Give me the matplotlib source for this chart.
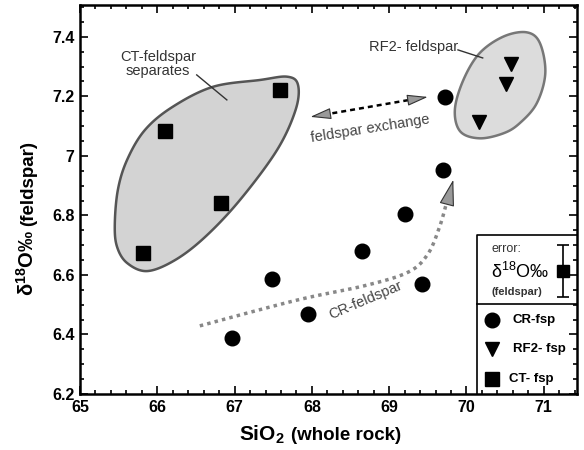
import numpy as np
import matplotlib.pyplot as plt
from matplotlib.ticker import MultipleLocator

plt.rcParams['font.family'] = ['Liberation Sans', 'DejaVu Sans']
plt.rcParams['mathtext.fontset'] = 'custom'
plt.rcParams['mathtext.rm'] = 'Liberation Sans'
plt.rcParams['mathtext.bf'] = 'Liberation Sans:bold'

# data
cr_sio2 = [66.97, 67.49, 67.95, 68.65, 69.21, 69.43, 69.70, 69.72]
cr_d18o = [6.387, 6.585, 6.468, 6.680, 6.806, 6.570, 6.953, 7.198]
rf2_sio2 = [70.58, 70.51, 70.16]
rf2_d18o = [7.31, 7.24, 7.115]
ct_sio2 = [67.59, 66.10, 66.82, 65.82]
ct_d18o = [7.22, 7.085, 6.843, 6.675]

# outlines of the shaded fields
ct_field_x = [65.45, 65.49, 65.61, 65.84, 66.20, 66.72, 67.33, 67.68, 67.82,
              67.79, 67.55, 67.07, 66.62, 66.23, 65.87, 65.61, 65.48]
ct_field_y = [6.768, 6.886, 6.987, 7.087, 7.165, 7.232, 7.255, 7.266, 7.239,
              7.155, 7.020, 6.852, 6.728, 6.650, 6.613, 6.640, 6.694]
rf2_field_x = [70.78, 70.95, 71.02, 70.91, 70.69, 70.48, 70.17, 69.92, 69.85,
               69.96, 70.17, 70.48]
rf2_field_y = [7.415, 7.379, 7.278, 7.177, 7.110, 7.076, 7.059, 7.082, 7.155,
               7.255, 7.345, 7.401]

# CR-feldspar trend path
trend_x = [66.55, 67.80, 68.70, 69.25, 69.50, 69.65, 69.74]
trend_y = [6.429, 6.515, 6.565, 6.610, 6.670, 6.760, 6.840]


def catmull(p, closed, n=20):
    m = len(p)
    if closed:
        idx = [(i - 1, i, (i + 1) % m, (i + 2) % m) for i in range(m)]
    else:
        p = np.vstack([p[0], p, p[-1]])
        idx = [(i - 1, i, i + 1, i + 2) for i in range(1, len(p) - 2)]
    out = []
    for a, b, c, d in idx:
        p0, p1, p2, p3 = p[a], p[b], p[c], p[d]
        for t in np.linspace(0, 1, n, endpoint=False):
            t2, t3 = t * t, t * t * t
            out.append(0.5 * (2 * p1 + (-p0 + p2) * t
                              + (2 * p0 - 5 * p1 + 4 * p2 - p3) * t2
                              + (-p0 + 3 * p1 - 3 * p2 + p3) * t3))
    out.append(out[0] if closed else p[-2])
    out = np.array(out)
    return out[:, 0], out[:, 1]


def head(ax, tip, tail, size=10, hl=1.3, hw=0.35):
    ax.annotate('', xy=tip, xytext=tail,
                arrowprops=dict(arrowstyle=f'-|>,head_length={hl},head_width={hw}',
                                mutation_scale=size, fc='#999999', ec='#333333',
                                lw=0.8, shrinkA=0, shrinkB=0), zorder=3)


fig = plt.figure(figsize=(5.84, 4.5), dpi=100)
ax = fig.add_axes([0.137, 0.1244, 0.851, 0.8646])

fx, fy = catmull(np.column_stack([ct_field_x, ct_field_y]), True)
ax.fill(fx, fy, facecolor='#d3d3d3', edgecolor='#555555', lw=1.8, zorder=1)
fx, fy = catmull(np.column_stack([rf2_field_x, rf2_field_y]), True)
ax.fill(fx, fy, facecolor='#dcdcdc', edgecolor='#777777', lw=1.8, zorder=1)

# CR-feldspar trend (dotted) with arrowhead
tx, ty = catmull(np.column_stack([trend_x, trend_y]), False)
ax.plot(tx, ty, color='#888888', lw=2.5, ls=(0, (1, 1.2)), zorder=2)
head(ax, (69.83, 6.92), (69.76, 6.85), size=12, hl=1.4, hw=0.4)
ax.text(68.70, 6.515, 'CR-feldspar', rotation=23, fontsize=10.5,
        color='#444444', ha='center', va='center')

# feldspar exchange arrow
ax.plot([68.15, 69.33], [7.138, 7.191], color='black', lw=1.8,
        ls=(0, (2, 1.6)), zorder=2)
head(ax, (67.98, 7.131), (68.17, 7.139))
head(ax, (69.50, 7.198), (69.31, 7.190))
ax.text(68.75, 7.09, 'feldspar exchange', rotation=9, fontsize=10.5,
        color='#444444', ha='center', va='center')

# field labels
ax.text(66.01, 7.31, 'CT-feldspar\nseparates', fontsize=10.5, color='#333333',
        ha='center', va='center', linespacing=1.0)
ax.plot([66.51, 66.90], [7.272, 7.188], color='#333333', lw=1)
ax.text(69.31, 7.366, 'RF2- feldspar', fontsize=10.5, color='#333333',
        ha='center', va='center')
ax.plot([69.89, 70.21], [7.356, 7.329], color='#333333', lw=1)

# data points
ax.plot(cr_sio2, cr_d18o, 'o', color='black', ms=10.5, zorder=4)
ax.plot(rf2_sio2, rf2_d18o, 'v', color='black', ms=10.5, zorder=4)
ax.plot(ct_sio2, ct_d18o, 's', color='black', ms=9.5, zorder=4)

ax.set_xlim(65, 71.43)
ax.set_ylim(6.2, 7.507)
ax.xaxis.set_major_locator(MultipleLocator(1))
ax.xaxis.set_minor_locator(MultipleLocator(0.2))
ax.yaxis.set_minor_locator(MultipleLocator(0.05))
ax.set_yticks([6.2, 6.4, 6.6, 6.8, 7.0, 7.2, 7.4])
ax.set_yticklabels(['6.2', '6.4', '6.6', '6.8', '7', '7.2', '7.4'])
ax.tick_params(which='both', direction='in', top=True, right=True,
               labelsize=11.5, width=1.2)
ax.tick_params(which='major', length=6, pad=4)
ax.tick_params(which='minor', length=3)
for lbl in ax.get_xticklabels() + ax.get_yticklabels():
    lbl.set_fontweight('bold')
for s in ax.spines.values():
    s.set_linewidth(1.8)

# axis labels
fig.text(0.449, 0.034, r'SiO$_\mathbf{2}$', fontsize=15, fontweight='bold',
         ha='center', va='center')
fig.text(0.593, 0.032, '(whole rock)', fontsize=13.5, fontweight='bold',
         ha='center', va='center')
fig.text(0.046, 0.415, r'δ$^{\mathbf{18}}$O‰', fontsize=14.5, fontweight='bold',
         rotation=90, ha='center', va='center')
fig.text(0.049, 0.593, '(feldspar)', fontsize=13.5, fontweight='bold',
         rotation=90, ha='center', va='center')

# legend / error box
tr = ax.transAxes
ax.plot([0.798, 0.798, 1.0], [0.0, 0.409, 0.409], color='black', lw=1.2,
        transform=tr, clip_on=False, zorder=5)
ax.plot([0.798, 1.0], [0.231, 0.231], color='black', lw=1.2, transform=tr,
        zorder=5)
ax.text(0.828, 0.372, 'error:', fontsize=9, color='#333333', transform=tr,
        va='center')
ax.text(0.826, 0.314, r'δ$^{18}$O‰', fontsize=13, transform=tr, va='center')
ax.text(0.828, 0.262, '(feldspar)', fontsize=8, fontweight='bold',
        color='#333333', transform=tr, va='center')
ax.errorbar([0.971], [0.3165], yerr=[0.0665], fmt='s', color='black',
            ms=9, capsize=4, elinewidth=1.2, capthick=1.2, transform=tr)

ax.plot([0.828], [0.190], 'o', color='black', ms=10.5, transform=tr)
ax.plot([0.828], [0.115], 'v', color='black', ms=10.5, transform=tr)
ax.plot([0.828], [0.038], 's', color='black', ms=9.5, transform=tr)
ax.text(0.871, 0.190, 'CR-fsp', fontsize=9.5, fontweight='bold',
        transform=tr, va='center')
ax.text(0.871, 0.115, 'RF2- fsp', fontsize=9.5, fontweight='bold',
        transform=tr, va='center')
ax.text(0.863, 0.038, 'CT- fsp', fontsize=9.5, fontweight='bold',
        transform=tr, va='center')

fig.savefig('out.png', dpi=100)
